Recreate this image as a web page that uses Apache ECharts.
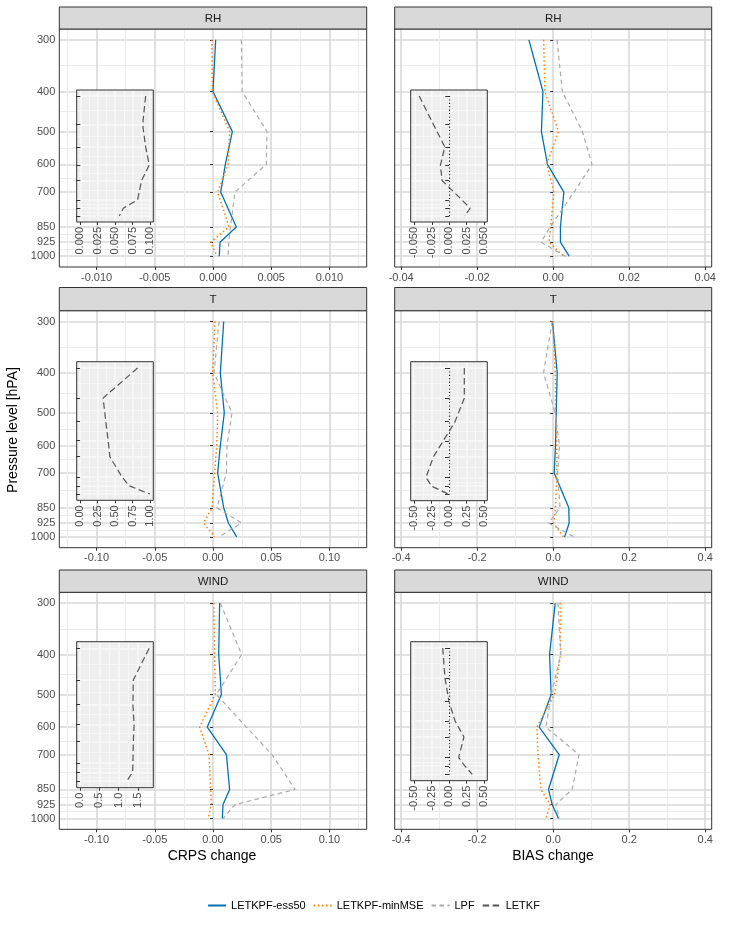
<!DOCTYPE html>
<html>
<head>
<meta charset="utf-8">
<script src="https://cdn.jsdelivr.net/npm/echarts@6/dist/echarts.min.js"></script>
<style>
  html, body { margin: 0; padding: 0; background: #fff; }
  #chart { width: 747px; height: 934px; }
</style>
</head>
<body>
<div id="chart"></div>
<script>
var FONT = "'Liberation Sans', Arial, Helvetica, sans-serif";

// pressure levels [hPa]
var levels = [300, 400, 500, 600, 700, 850, 925, 1000];

// CRPS change, RH
var crpsRhEss50  = [0.00023, 0.0000, 0.00166, 0.00106, 0.00066, 0.0020, 0.0006, 0.00054];
var crpsRhMinMSE = [-0.0001, -0.00006, 0.00143, 0.0013, 0.0004, 0.00138, -0.0002, 0.00034];
var crpsRhLpf    = [0.00244, 0.0025, 0.00464, 0.00458, 0.00189, 0.0015, 0.00135, 0.0013];
var crpsRhLetkf  = [0.0938, 0.0895, 0.0938, 0.099, 0.088, 0.0823, 0.0617, 0.056];
// BIAS change, RH
var biasRhEss50  = [-0.0064, -0.0027, -0.0031, -0.0015, 0.0028, 0.0019, 0.0019, 0.0042];
var biasRhMinMSE = [-0.0025, -0.0022, 0.0014, -0.0017, 0.0002, -0.0007, -0.0011, 0.0027];
var biasRhLpf    = [0.0010, 0.0024, 0.0077, 0.0102, 0.0055, -0.0008, -0.0032, 0.0032];
var biasRhLetkf  = [-0.0430, -0.0225, -0.0063, -0.0127, -0.0103, 0.0180, 0.0300, 0.0220];
// CRPS change, T
var crpsTEss50  = [0.0092, 0.0063, 0.0097, 0.0063, 0.0040, 0.0092, 0.0132, 0.0203];
var crpsTMinMSE = [0.0017, -0.0003, 0.0040, 0.0032, 0.0014, -0.0009, -0.0080, 0.0014];
var crpsTLpf    = [0.0052, 0.0009, 0.0163, 0.0120, 0.0115, 0.0034, 0.0246, 0.0052];
var crpsTLetkf  = [0.823, 0.33, 0.368, 0.402, 0.426, 0.60, 0.703, 1.0];
// BIAS change, T
var biasTEss50  = [-0.0018, 0.0105, 0.0079, 0.0060, 0.0026, 0.0410, 0.0420, 0.0300];
var biasTMinMSE = [-0.0009, 0.0053, 0.0060, 0.0096, 0.0096, 0.0060, 0.0010, 0.0270];
var biasTLpf    = [-0.0026, -0.0254, 0.0053, 0.0167, 0.0114, 0.0180, -0.0123, 0.0550];
var biasTLetkf  = [0.219, 0.219, 0.086, -0.081, -0.224, -0.329, -0.248, 0.0];
// CRPS change, WIND
var crpsWindEss50  = [0.0057, 0.0049, 0.0072, -0.0049, 0.0115, 0.0143, 0.0086, 0.0080];
var crpsWindMinMSE = [0.0006, 0.0014, 0.0020, -0.0115, -0.0034, -0.0020, -0.0014, -0.0043];
var crpsWindLpf    = [0.0063, 0.0246, 0.0029, 0.0287, 0.0507, 0.0705, 0.0189, 0.0086];
var crpsWindLetkf  = [1.79, 1.38, 1.37, 1.40, 1.38, 1.37, 1.36, 1.21];
// BIAS change, WIND
var biasWindEss50  = [0.0053, -0.0096, -0.0053, -0.0368, 0.0158, -0.0123, -0.0026, 0.0140];
var biasWindMinMSE = [0.0184, 0.0193, 0.0035, -0.0430, -0.0400, -0.0325, -0.0079, -0.0193];
var biasWindLpf    = [0.0123, 0.0200, -0.0050, -0.0193, 0.0680, 0.0500, 0.0070, 0.0167];
var biasWindLetkf  = [-0.090, -0.057, 0.0, 0.086, 0.214, 0.138, 0.229, 0.333];

// tick labels
var crpsRhTicks   = [-0.01, -0.005, 0, 0.005, 0.01];
var crpsTicks     = [-0.1, -0.05, 0, 0.05, 0.1];
var biasRhTicks   = [-0.04, -0.02, 0, 0.02, 0.04];
var biasTicks     = [-0.4, -0.2, 0, 0.2, 0.4];
var insetCrpsRhTicks   = [0, 0.025, 0.05, 0.075, 0.1];
var insetBiasRhTicks   = [-0.05, -0.025, 0, 0.025, 0.05];
var insetCrpsTTicks    = [0, 0.25, 0.5, 0.75, 1];
var insetBiasTicks     = [-0.5, -0.25, 0, 0.25, 0.5];
var insetCrpsWindTicks = [0, 0.5, 1, 1.5];

var methods = [
  { name: 'LETKPF-ess50',  color: '#0072B2', type: 'solid',   width: 1.3 },
  { name: 'LETKPF-minMSE', color: '#FF7F0E', type: [1.5, 2.6], width: 1.5 },
  { name: 'LPF',           color: '#AAAAAA', type: [4.5, 3.5], width: 1.2 }
];
var letkf = { name: 'LETKF', color: '#555555', type: [6.5, 3.5], width: 1.2 };

// log pressure axis, reversed, 5% padding like ggplot
var logLv = levels.map(function (p) { return Math.log10(p); });
var ySpan = logLv[logLv.length - 1] - logLv[0];
var yMin = logLv[0] - 0.05 * ySpan;
var yMax = logLv[logLv.length - 1] + 0.05 * ySpan;
var yMinor = [];
for (var i = 0; i < logLv.length - 1; i++) yMinor.push((logLv[i] + logLv[i + 1]) / 2);

function minorOf(ticks, min, max) {
  var step = ticks[1] - ticks[0], out = [];
  for (var k = -1; k < ticks.length; k++) {
    var v = ticks[0] + (k + 0.5) * step;
    if (v > min && v < max) out.push(+v.toFixed(8));
  }
  return out;
}
function pairs(vals) {
  return vals.map(function (v, k) { return [v, logLv[k]]; });
}

var colBox = [{ left: 59.3, width: 307.4 }, { left: 394.7, width: 317 }];
var rowBox = [{ top: 29, height: 238 }, { top: 310.7, height: 237 }, { top: 592.3, height: 237 }];
var stripBox = [{ top: 7, height: 22 }, { top: 287.5, height: 23.2 }, { top: 570, height: 22.3 }];
var insetCol = [{ left: 76.7, width: 76.6 }, { left: 410.7, width: 76.6 }];
var insetRow = [
  [{ top: 90, height: 132 }, { top: 90, height: 132 }],
  [{ top: 361.7, height: 138.6 }, { top: 361.7, height: 139 }],
  [{ top: 641.7, height: 146 }, { top: 641.7, height: 139 }]
];

var panels = [
  { row: 0, col: 0, strip: 'RH', range: [-0.0132, 0.0132], ticks: crpsRhTicks, dec: 3,
    vals: [crpsRhEss50, crpsRhMinMSE, crpsRhLpf], inset: crpsRhLetkf,
    iRange: [-0.0052, 0.1048], iTicks: insetCrpsRhTicks, iDec: 3, zero: false },
  { row: 0, col: 1, strip: 'RH', range: [-0.0417, 0.0417], ticks: biasRhTicks, dec: 2,
    vals: [biasRhEss50, biasRhMinMSE, biasRhLpf], inset: biasRhLetkf,
    iRange: [-0.0552, 0.0545], iTicks: insetBiasRhTicks, iDec: 3, zero: true },
  { row: 1, col: 0, strip: 'T', range: [-0.132, 0.132], ticks: crpsTicks, dec: 2,
    vals: [crpsTEss50, crpsTMinMSE, crpsTLpf], inset: crpsTLetkf,
    iRange: [-0.048, 1.048], iTicks: insetCrpsTTicks, iDec: 2, zero: false },
  { row: 1, col: 1, strip: 'T', range: [-0.417, 0.417], ticks: biasTicks, dec: 1,
    vals: [biasTEss50, biasTMinMSE, biasTLpf], inset: biasTLetkf,
    iRange: [-0.548, 0.548], iTicks: insetBiasTicks, iDec: 2, zero: true },
  { row: 2, col: 0, strip: 'WIND', range: [-0.132, 0.132], ticks: crpsTicks, dec: 2,
    vals: [crpsWindEss50, crpsWindMinMSE, crpsWindLpf], inset: crpsWindLetkf,
    iRange: [-0.087, 1.898], iTicks: insetCrpsWindTicks, iDec: 1, zero: false },
  { row: 2, col: 1, strip: 'WIND', range: [-0.417, 0.417], ticks: biasTicks, dec: 1,
    vals: [biasWindEss50, biasWindMinMSE, biasWindLpf], inset: biasWindLetkf,
    iRange: [-0.548, 0.548], iTicks: insetBiasTicks, iDec: 2, zero: true }
];

var grids = [], xAxes = [], yAxes = [], series = [], graphics = [];

function addGrid(box, isInset, range, ticks, dec, showYLabels) {
  var z = isInset ? 4 : 0;
  var gi = grids.length;
  var majorLine = isInset ? { color: '#f9f9f9', width: 1.5 } : { color: '#d9d9d9', width: 1.6 };
  var minorLine = isInset ? { color: '#f6f6f6', width: 0.9 } : { color: '#ebebeb', width: 1 };
  grids.push({
    left: box.left, top: box.top, width: box.width, height: box.height,
    show: true, backgroundColor: isInset ? '#eeeeee' : '#ffffff', borderWidth: 0,
    containLabel: false, outerBoundsMode: 'none', z: z
  });
  var xMinor = minorOf(ticks, range[0], range[1]);
  // minor x lines
  xAxes.push({
    gridIndex: gi, type: 'value', min: range[0], max: range[1], z: z + 1, silent: true,
    axisLine: { show: false }, axisTick: { show: false, customValues: xMinor },
    axisLabel: { show: false, customValues: xMinor },
    splitLine: { show: true, lineStyle: minorLine }
  });
  // major x
  xAxes.push({
    gridIndex: gi, type: 'value', position: 'bottom', min: range[0], max: range[1], z: z + 1, silent: true,
    axisLine: { show: false },
    axisTick: { show: true, length: 3, customValues: ticks, lineStyle: { color: '#333', width: 1 } },
    axisLabel: {
      customValues: ticks, color: '#4d4d4d', fontSize: 11, fontFamily: FONT,
      margin: 5, rotate: isInset ? 90 : 0,
      padding: isInset ? [8, 0, 0, 0] : 0,
      formatter: function (v) { return (+v).toFixed(dec); }
    },
    splitLine: { show: true, lineStyle: majorLine }
  });
  yAxes.push({
    gridIndex: gi, type: 'value', inverse: true, min: yMin, max: yMax, z: z + 1, silent: true,
    axisLine: { show: false }, axisTick: { show: false, customValues: yMinor },
    axisLabel: { show: false, customValues: yMinor },
    splitLine: { show: true, lineStyle: minorLine }
  });
  yAxes.push({
    gridIndex: gi, type: 'value', position: 'left', inverse: true, min: yMin, max: yMax, z: z + 1, silent: true,
    axisLine: { show: false },
    axisTick: { show: true, length: isInset ? 4 : 3, customValues: logLv, lineStyle: { color: '#333', width: 1 } },
    axisLabel: {
      show: showYLabels, customValues: logLv, color: '#4d4d4d', fontSize: 11, fontFamily: FONT, margin: 4,
      formatter: function (v) { return String(Math.round(Math.pow(10, v))); }
    },
    splitLine: { show: true, lineStyle: majorLine }
  });
  // frame on top
  graphics.push({
    type: 'rect', z: 20, silent: true,
    shape: { x: box.left, y: box.top, width: box.width, height: box.height },
    style: { fill: 'rgba(0,0,0,0)', stroke: '#333333', lineWidth: 1 }
  });
  return { x: xAxes.length - 1, y: yAxes.length - 1 };
}

function lineSeries(m, vals, ax, z) {
  return {
    name: m.name, type: 'line', xAxisIndex: ax.x, yAxisIndex: ax.y,
    data: pairs(vals), symbol: 'none', showSymbol: false, z: z, silent: true,
    lineStyle: { color: m.color, width: m.width, type: m.type },
    itemStyle: { color: m.color }
  };
}

panels.forEach(function (p) {
  var box = {
    left: colBox[p.col].left, width: colBox[p.col].width,
    top: rowBox[p.row].top, height: rowBox[p.row].height
  };
  var ax = addGrid(box, false, p.range, p.ticks, p.dec, p.col === 0);
  methods.forEach(function (m, k) { series.push(lineSeries(m, p.vals[k], ax, 3)); });

  var ib = {
    left: insetCol[p.col].left, width: insetCol[p.col].width,
    top: insetRow[p.row][p.col].top, height: insetRow[p.row][p.col].height
  };
  var iax = addGrid(ib, true, p.iRange, p.iTicks, p.iDec, false);
  var s = lineSeries(letkf, p.inset, iax, 6);
  if (p.zero) {
    s.markLine = {
      silent: true, symbol: ['none', 'none'], animation: false,
      label: { show: false },
      lineStyle: { color: '#000', width: 1.1, type: [1.1, 2.3] },
      data: [[{ coord: [0, logLv[0]] }, { coord: [0, logLv[logLv.length - 1]] }]]
    };
  }
  series.push(s);

  // facet strip
  var sb = stripBox[p.row];
  graphics.push({
    type: 'rect', z: 20, silent: true,
    shape: { x: box.left, y: sb.top, width: box.width, height: sb.height },
    style: { fill: '#d9d9d9', stroke: '#333333', lineWidth: 1 }
  });
  graphics.push({
    type: 'text', z: 21, silent: true,
    x: box.left + box.width / 2, y: sb.top + sb.height / 2 + 0.5,
    style: { text: p.strip, fill: '#1a1a1a', fontSize: 11.5, fontFamily: FONT, align: 'center', verticalAlign: 'middle' }
  });
});

// axis titles
graphics.push({
  type: 'text', z: 21, silent: true, x: 212, y: 856,
  style: { text: 'CRPS change', fill: '#000', fontSize: 14, fontFamily: FONT, align: 'center', verticalAlign: 'middle' }
});
graphics.push({
  type: 'text', z: 21, silent: true, x: 553, y: 856,
  style: { text: 'BIAS change', fill: '#000', fontSize: 14, fontFamily: FONT, align: 'center', verticalAlign: 'middle' }
});
graphics.push({
  type: 'text', z: 21, silent: true, x: 13, y: 430, rotation: Math.PI / 2,
  style: { text: 'Pressure level [hPA]', fill: '#000', fontSize: 14, fontFamily: FONT, align: 'center', verticalAlign: 'middle' }
});

var myChart = echarts.init(document.getElementById('chart'), null, { renderer: 'canvas' });
var option = {
  animation: false,
  backgroundColor: '#ffffff',
  textStyle: { fontFamily: FONT },
  legend: {
    left: 'center', top: 900, orient: 'horizontal', padding: 0,
    itemWidth: 18, itemHeight: 12, itemGap: 7,
    itemStyle: { opacity: 0 },
    textStyle: { color: '#000', fontSize: 11, fontFamily: FONT },
    data: ['LETKPF-ess50', 'LETKPF-minMSE', 'LPF', 'LETKF'],
    selectedMode: false
  },
  grid: grids,
  xAxis: xAxes,
  yAxis: yAxes,
  series: series,
  graphic: { elements: graphics }
};
myChart.setOption(option);
window.addEventListener('resize', function () { myChart.resize(); });
</script>
</body>
</html>
